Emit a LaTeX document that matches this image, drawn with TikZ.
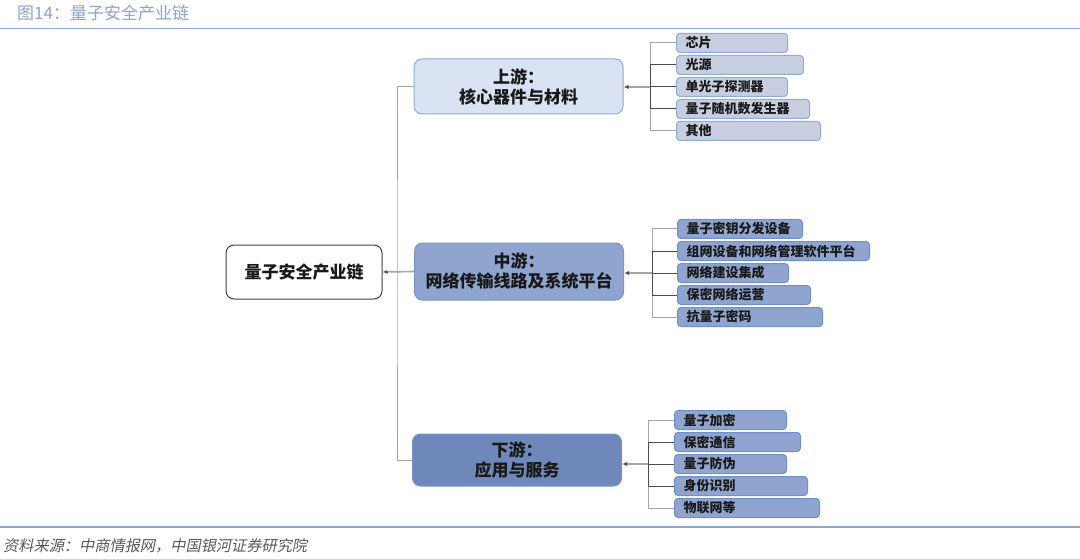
\documentclass[tikz,border=0pt]{standalone}
\usepackage{fontspec}
\newfontfamily\cjk{Noto Sans CJK SC}
\newfontfamily\cjkit[FakeSlant=0.2]{Noto Sans CJK SC}
\usetikzlibrary{arrows.meta}
\definecolor{titleblue}{HTML}{8FA2C8}
\definecolor{rulecol}{HTML}{8EA6D3}
\definecolor{rootline}{HTML}{404040}
\definecolor{upfill}{HTML}{DAE3F3}
\definecolor{upline}{HTML}{8FAADC}
\definecolor{upleaf}{HTML}{C6CEE0}
\definecolor{midfill}{HTML}{8FA4CE}
\definecolor{midline}{HTML}{7893C9}
\definecolor{downfill}{HTML}{6F88BB}
\definecolor{leaffill}{HTML}{8FA4CE}
\definecolor{leafline}{HTML}{7090CC}
\definecolor{linelight}{HTML}{A6A6A6}
\definecolor{linedark}{HTML}{4D4D4D}
\begin{document}
\begin{tikzpicture}[x=1pt, y=-1pt,
	mainbox/.style={draw, rounded corners=8pt, line width=1pt, minimum width=209pt, minimum height=55pt, align=center, text=black!90, font=\cjk\bfseries\fontsize{17}{20}\selectfont},
	leafbox/.style={draw=leafline, rounded corners=3.5pt, line width=1pt, minimum height=19pt, inner xsep=9pt, inner ysep=0pt, anchor=west, align=left, text=black!90, font=\cjk\bfseries\fontsize{13}{15}\selectfont},
	linkl/.style={draw=linelight, line width=1pt},
	linkd/.style={draw=linedark, line width=1pt},
	tip/.style={-{Latex[length=5pt,width=4pt,color=linedark]}, draw=linelight, line width=1.6pt},
	rule/.style={draw=rulecol, line width=1.8pt}]
	\useasboundingbox (0,0) rectangle (1080,559);
	% header and footer
	\node [anchor=west, inner sep=0pt, text=titleblue, font=\cjk\fontsize{17}{20}\selectfont] (title) at (17,13.5) {图14：量子安全产业链};
	\draw [rule] (0,28.5) -- (1080,28.5);
	\draw [rule] (0,527) -- (1080,527);
	\node [anchor=west, inner sep=0pt, text=black!65, font=\cjkit\fontsize{15.2}{18}\selectfont] (source) at (3,546) {资料来源：中商情报网，中国银河证券研究院};
	% main boxes
	\node [draw=rootline, fill=white, rounded corners=8pt, line width=1pt, minimum width=156pt, minimum height=54pt, text=black!90, font=\cjk\bfseries\fontsize{17}{20}\selectfont] (root) at (304,272) {量子安全产业链};
	\node [mainbox, draw=upline, fill=upfill] (up) at (518.5,86.5) {上游：\\核心器件与材料};
	\node [mainbox, draw=midline, fill=midfill, minimum height=57pt] (mid) at (519,271.5) {中游：\\网络传输线路及系统平台};
	\node [mainbox, draw=midline, fill=downfill, minimum height=52pt] (down) at (517,460) {下游：\\应用与服务};
	% leaves
	\foreach \n/\y/\w/\t [evaluate=\w as \tw using \w-18] in {1/43/111/芯片, 2/65/127/光源, 3/87/111/单光子探测器, 4/109/133/量子随机数发生器, 5/131/144/其他}
		\node [leafbox, draw=upline, fill=upleaf, text width=\tw pt] (up\n) at (676,\y) {\t};
	\foreach \n/\y/\w/\t [evaluate=\w as \tw using \w-18] in {1/229/125/量子密钥分发设备, 2/251/192/组网设备和网络管理软件平台, 3/273/111/网络建设集成, 4/295/133/保密网络运营, 5/317/145/抗量子密码}
		\node [leafbox, fill=leaffill, text width=\tw pt] (mid\n) at (677,\y) {\t};
	\foreach \n/\y/\w/\t [evaluate=\w as \tw using \w-18] in {1/420/112/量子加密, 2/442/126/保密通信, 3/464/112/量子防伪, 4/486/133/身份识别, 5/508/145/物联网等}
		\node [leafbox, fill=leaffill, text width=\tw pt] (down\n) at (674,\y) {\t};
	% connectors
	\coordinate (jroot) at (397,272);
	\coordinate (jup) at (650,87);
	\coordinate (jmid) at (652,273);
	\coordinate (jdown) at (648,464);
	\draw [linkl] (up.west) -| (jroot) |- (down.west);
	\draw [tip] (mid.west) -- (root.east);
	\foreach \g in {up,mid,down} {
		\foreach \n in {1,5} \draw [linkl] (\g\n.west) -| (j\g);
		\foreach \n in {2,3,4} \draw [linkd] (\g\n.west) -| (j\g);
		\draw [tip] (j\g) -- (j\g -| \g.east);
	}
\end{tikzpicture}
\end{document}
